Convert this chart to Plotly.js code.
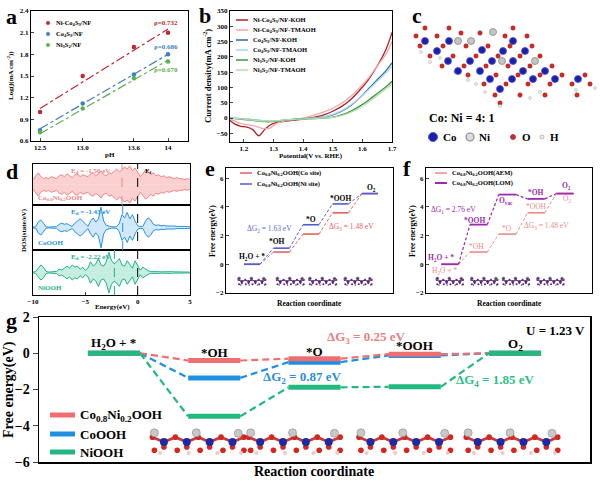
<!DOCTYPE html>
<html>
<head>
<meta charset="utf-8">
<script src="https://cdn.plot.ly/plotly-3.0.1.min.js"></script>
<style>
  html, body { margin: 0; padding: 0; background: #fff; }
  #chart { width: 600px; height: 481px; }
</style>
</head>
<body>
<div id="chart"></div>
<script>
// ---- a: current vs pH ----
const phValues = [12.5, 13.0, 13.6, 14];
const phLabels = ['12.5', '13.0', '13.6', '14'];
const logjNiCo = [1.0, 1.5, 1.9, 2.1];
const logjCo = [0.75, 1.12, 1.52, 1.80];
const logjNi = [0.72, 1.05, 1.47, 1.70];
const fitEnds = [12.5, 14];
const fitNiCo = [1.05, 2.15];
const fitCo = [0.77, 1.80];
const fitNi = [0.70, 1.72];

// ---- b: LSV curves ----
const potential = [1.15, 1.17, 1.19, 1.21, 1.23, 1.25, 1.27, 1.29, 1.31, 1.33, 1.35, 1.38,
  1.41, 1.44, 1.47, 1.50, 1.53, 1.56, 1.59, 1.62, 1.65, 1.68, 1.70];
const jNiCoKOH = [-5, -20, -27, -30, -38, -58, -38, -22, -15, -12, -9, -6, -2, 3, 10, 22, 38, 60, 90, 125, 170, 225, 280];
const jNiCoTMA = [-3, -10, -18, -22, -25, -30, -35, -32, -18, -12, -8, -4, 2, 10, 20, 32, 48, 70, 98, 130, 170, 210, 250];
const jCoKOH = [0, -1, -2, -4, -6, -8, -10, -11, -10, -8, -6, -4, -2, 0, 3, 10, 22, 40, 65, 95, 125, 155, 180];
const jCoTMA = [0, -1, -2, -3, -5, -7, -9, -10, -10, -8, -6, -4, -2, 0, 4, 12, 24, 42, 65, 92, 120, 148, 168];
const jNiKOH = [0, -2, -4, -6, -8, -10, -12, -12, -10, -8, -6, -4, -3, -2, 0, 3, 10, 22, 38, 58, 80, 102, 120];
const jNiTMA = [0, -1, -3, -5, -7, -9, -10, -10, -9, -7, -5, -4, -3, -2, 0, 2, 8, 18, 33, 52, 74, 95, 112];

// ---- c: slab model (positions in figure pixels) ----
const coX = [425, 449, 513, 437, 482, 503, 525, 448, 470, 492, 513, 458, 480, 523, 545, 490, 512, 533, 555, 578, 500];
const coY = [41, 41, 41, 51, 50, 51, 51, 61, 61, 61, 61, 71, 71, 71, 71, 79, 79, 79, 79, 79, 89];
const niX = [458, 471, 493, 502, 535];
const niY = [41, 41, 32, 61, 61];
const oX = [416, 437, 461, 480, 505, 527, 420, 443, 466, 488, 510, 532, 430, 453, 476, 498, 520, 540,
  442, 464, 486, 508, 530, 552, 468, 496, 518, 540, 562, 585, 484, 506, 528, 550, 572, 590, 495, 520, 545, 577, 425, 449, 513, 500];
const oY = [36, 36, 33, 33, 36, 36, 46, 46, 46, 46, 46, 46, 56, 56, 56, 56, 56, 56,
  66, 66, 66, 66, 66, 66, 75, 75, 75, 75, 75, 75, 84, 84, 84, 84, 84, 84, 95, 95, 95, 95, 28, 28, 28, 103];
const hX = [421, 440, 455, 468, 485, 500, 530, 576, 595, 540, 430, 476];
const hY = [52, 58, 72, 80, 92, 106, 98, 90, 88, 92, 62, 84];

// ---- d: DOS ----
const energy = [-10, -9.75, -9.5, -9.25, -9, -8.75, -8.5, -8.25, -8, -7.75, -7.5, -7.25, -7, -6.75, -6.5, -6.25,
  -6, -5.75, -5.5, -5.25, -5, -4.75, -4.5, -4.25, -4, -3.75, -3.5, -3.25, -3, -2.75, -2.5, -2.25,
  -2, -1.75, -1.5, -1.25, -1, -0.75, -0.5, -0.25, 0, 0.25, 0.5, 0.75, 1, 1.25, 1.5, 1.75,
  2, 2.25, 2.5, 2.75, 3, 3.25, 3.5, 3.75, 4, 4.25, 4.5, 4.75, 5];
const dosCoNi = [0.25, 0.45, 0.6, 0.4, 0.3, 0.35, 0.3, 0.4, 0.35, 0.3,
  0.45, 0.5, 0.4, 0.55, 0.45, 0.35, 0.5, 0.55, 0.4, 0.5,
  0.45, 0.4, 0.55, 0.6, 0.45, 0.55, 0.7, 0.5, 0.45, 0.6,
  0.55, 0.7, 0.8, 0.65, 0.75, 0.9, 0.8, 0.95, 0.7, 0.85,
  0.6, 0.4, 0.55, 0.75, 0.65, 0.5, 0.6, 0.45, 0.5, 0.4,
  0.45, 0.35, 0.4, 0.35, 0.3, 0.35, 0.3, 0.3, 0.25, 0.3, 0.25];
const dosCo = [0.02, 0.03, 0.25, 0.35, 0.2, 0.03, 0.02, 0.02, 0.02, 0.04,
  0.15, 0.2, 0.15, 0.18, 0.1, 0.05, 0.2, 0.3, 0.4, 0.3,
  0.15, 0.05, 0.3, 0.45, 0.25, 0.4, 0.95, 0.3, 0.1, 0.05,
  0.03, 0.03, 0.04, 0.2, 0.6, 0.45, 0.7, 0.4, 0.6, 0.3,
  0.08, 0.04, 0.05, 0.3, 0.45, 0.35, 0.15, 0.1, 0.12, 0.08,
  0.1, 0.07, 0.08, 0.06, 0.07, 0.05, 0.06, 0.05, 0.05, 0.04, 0.04];
const dosNi = [0.02, 0.04, 0.2, 0.35, 0.25, 0.05, 0.02, 0.02, 0.03, 0.05,
  0.15, 0.12, 0.2, 0.3, 0.2, 0.35, 0.25, 0.3, 0.15, 0.25,
  0.1, 0.2, 0.5, 0.3, 0.4, 0.65, 0.35, 0.3, 0.5, 0.95,
  0.55, 0.4, 0.5, 0.65, 0.35, 0.3, 0.55, 0.35, 0.2, 0.55,
  0.3, 0.1, 0.25, 0.15, 0.08, 0.04, 0.05, 0.03, 0.04, 0.03,
  0.04, 0.03, 0.03, 0.04, 0.03, 0.03, 0.03, 0.02, 0.03, 0.02, 0.02];
const dBandCentres = [-1.50, -1.43, -2.22];

// ---- e, f, g: free energy steps ----
const eCoSite = [0, 0.85, 2.10, 3.58, 4.92];
const eNiSite = [0, 1.12, 2.75, 4.20, 4.92];
const fAEM = [0, 0.85, 2.10, 3.58, 4.92];
const fLOM = [0, 2.76, 4.85, 4.55, 4.92];
const gCoNi = [0, -0.40, -0.30, -0.05, 0];
const gCoOOH = [0, -1.36, -0.49, -0.12, 0];
const gNiOOH = [0, -3.48, -1.88, -1.85, 0];

// slab sketch under the energy levels (one unit cell, reused)
const slabCoX = [-0.36, -0.12, 0.12, 0.36];
const slabCoY = [0, 0, 0, 0];
const slabNiX = [-0.46, -0.02, 0.42];
const slabNiY = [0.85, 0.85, 0.8];
const slabOX = [-0.48, -0.24, 0, 0.24, 0.48, -0.36, -0.12, 0.12, 0.36, -0.46, -0.22, 0.02, 0.26, 0.48];
const slabOY = [0.45, 0.45, 0.45, 0.45, 0.45, -0.45, -0.45, -0.45, -0.45, -0.75, -0.75, -0.75, -0.75, -0.75];
const slabHX = [-0.4, -0.1, 0.2, 0.45];
const slabHY = [-1, -1, -1, -1];
const slabBondX = [-0.48, -0.36, -0.24, -0.12, 0, 0.12, 0.24, 0.36, 0.48];
const slabBondY = [0.45, 0, 0.45, 0, 0.45, 0, 0.45, 0, 0.45];
const eSlabCentres = [0.0, 1.3, 2.4, 3.6];
const fSlabCentres = [0.0, 1.2, 2.3, 3.5];
const gSlabCentres = [0.84, 1.8, 2.9, 3.97];

const FONT = 'Liberation Serif';
const px = v => v / 600;
const py = v => 1 - v / 481;
const f = (size, color, weight) => ({ family: FONT, size: size, color: color || '#000', weight: weight || 'bold' });

const traces = [];
const shapes = [];
const annotations = [];

function note(text, x, y, size, color, opts) {
  annotations.push(Object.assign({ text: text, x: x, y: y, xref: 'paper', yref: 'paper',
    showarrow: false, font: f(size, color), xanchor: 'center', yanchor: 'middle' }, opts || {}));
}
function axNote(text, xa, ya, x, y, size, color, weight, opts) {
  annotations.push(Object.assign({ text: text, x: x, y: y, xref: xa, yref: ya,
    showarrow: false, font: f(size, color, weight), xanchor: 'center', yanchor: 'middle' }, opts || {}));
}
function legLine(x0, x1, y, color, width, text, size, tcolor) {
  shapes.push({ type: 'line', xref: 'paper', yref: 'paper', x0: px(x0), x1: px(x1), y0: py(y), y1: py(y),
    line: { color: color, width: width } });
  note(text, px(x1 + 3), py(y), size, tcolor || '#000', { xanchor: 'left' });
}
function dot(cx, cy, r, fill, lineColor, lw) {
  shapes.push({ type: 'circle', xref: 'paper', yref: 'paper', x0: px(cx - r), x1: px(cx + r),
    y0: py(cy + r), y1: py(cy - r), fillcolor: fill, line: { color: lineColor || fill, width: lw || 0.5 } });
}

// a
const aSeries = [
  [logjNiCo, fitNiCo, '#c0282d', 'ρ=0.732', 2.23, 'Ni-Co<sub>4</sub>S<sub>3</sub>/NF'],
  [logjCo, fitCo, '#3d7fc0', 'ρ=0.686', 1.90, 'Co<sub>4</sub>S<sub>3</sub>/NF'],
  [logjNi, fitNi, '#5fb04f', 'ρ=0.670', 1.58, 'Ni<sub>3</sub>S<sub>2</sub>/NF']
];
aSeries.forEach((s, k) => {
  traces.push({ x: fitEnds, y: s[1], mode: 'lines', line: { color: s[2], width: 1.2, dash: 'dashdot' }, xaxis: 'x', yaxis: 'y' });
  traces.push({ x: phValues, y: s[0], mode: 'markers', marker: { color: s[2], size: 4.5 }, xaxis: 'x', yaxis: 'y' });
  axNote(s[3], 'x', 'y', 13.98, s[4], 7, s[2]);
  dot(48, 23 + k * 11, 1.8, s[2]);
  note(s[5], px(54), py(23 + k * 11), 6.5, '#000', { xanchor: 'left' });
});

// b
const bSeries = [
  [jNiCoKOH, '#b01f2a', 'Ni-Co<sub>4</sub>S<sub>3</sub>/NF-KOH'],
  [jNiCoTMA, '#f4a7a7', 'Ni-Co<sub>4</sub>S<sub>3</sub>/NF-TMAOH'],
  [jCoKOH, '#2d6ba8', 'Co<sub>4</sub>S<sub>3</sub>/NF-KOH'],
  [jCoTMA, '#a9d3f0', 'Co<sub>4</sub>S<sub>3</sub>/NF-TMAOH'],
  [jNiKOH, '#3a963a', 'Ni<sub>3</sub>S<sub>2</sub>/NF-KOH'],
  [jNiTMA, '#b5ddb0', 'Ni<sub>3</sub>S<sub>2</sub>/NF-TMAOH']
];
bSeries.forEach((s, k) => {
  traces.push({ x: potential, y: s[0], mode: 'lines', line: { color: s[1], width: 1.3, shape: 'spline' }, xaxis: 'x2', yaxis: 'y2' });
  legLine(236, 248, 20 + k * 10, s[1], 1.5, s[2], 6.5);
});

// c
traces.push({ x: oX, y: oY, mode: 'markers', marker: { color: '#d42a22', size: 4.5, line: { color: '#8a1010', width: 0.4 } }, xaxis: 'x3', yaxis: 'y3' });
traces.push({ x: hX, y: hY, mode: 'markers', marker: { color: '#eeeeee', size: 3, line: { color: '#999', width: 0.4 } }, xaxis: 'x3', yaxis: 'y3' });
traces.push({ x: coX, y: coY, mode: 'markers', marker: { color: '#1d1fa8', size: 7, line: { color: '#4b55d8', width: 0.8 } }, xaxis: 'x3', yaxis: 'y3' });
traces.push({ x: niX, y: niY, mode: 'markers', marker: { color: '#c4c4c4', size: 7, line: { color: '#888', width: 0.8 } }, xaxis: 'x3', yaxis: 'y3' });
note('Co: Ni = 4: 1', px(427), py(118), 12, '#000', { xanchor: 'left' });
dot(433, 137, 4.5, '#1d1fa8', '#4b55d8', 1);
note('Co', px(441), py(137), 11, '#000', { xanchor: 'left' });
dot(470, 137, 4, '#dddddd', '#888', 1.2);
note('Ni', px(477), py(137), 11, '#000', { xanchor: 'left' });
dot(513, 137, 2.5, '#d42a22', '#8a1010', 0.6);
note('O', px(520), py(137), 11, '#000', { xanchor: 'left' });
dot(542, 137, 2, '#eeeeee', '#999', 0.6);
note('H', px(548), py(137), 11, '#000', { xanchor: 'left' });

// d
const dSeries = [
  [dosCoNi, '#ef8585', 'rgba(244,150,150,0.45)', 'x4', 'y4', 'Co<sub>0.8</sub>Ni<sub>0.2</sub>OOH', 'E<sub>d</sub> = -1.50 eV', 164, 205],
  [dosCo, '#2a90dc', 'rgba(120,190,240,0.35)', 'x5', 'y5', 'CoOOH', 'E<sub>d</sub> = -1.43 eV', 205, 250],
  [dosNi, '#22b386', 'rgba(90,205,165,0.35)', 'x6', 'y6', 'NiOOH', 'E<sub>d</sub> = -2.22 eV', 250, 295]
];
dSeries.forEach((s, k) => {
  traces.push({ x: energy, y: s[0], mode: 'lines', fill: 'tozeroy', fillcolor: s[2], line: { color: s[1], width: 1 }, xaxis: s[3], yaxis: s[4] });
  traces.push({ x: energy, y: s[0].map(v => -v), mode: 'lines', fill: 'tozeroy', fillcolor: s[2], line: { color: s[1], width: 1 }, xaxis: s[3], yaxis: s[4] });
  shapes.push({ type: 'line', xref: s[3], yref: 'paper', x0: dBandCentres[k], x1: dBandCentres[k], y0: py(s[8]), y1: py(s[7]),
    line: { color: s[1], width: 1, dash: 'dash' } });
  note(s[5], px(36), py(s[8] - 7), 7, s[1], { xanchor: 'left' });
  note(s[6], px(90), py(s[7] + 7), 7, s[1]);
});
shapes.push({ type: 'line', xref: 'x4', yref: 'paper', x0: 0, x1: 0, y0: py(295), y1: py(164), line: { color: '#000', width: 1, dash: 'dash' } });
note('E<sub>f</sub>', px(148), py(171), 7, '#000');

// slab sketches
function slab(centres, xa, ya, y0, sx, sy, size, mono) {
  centres.forEach(c => {
    const mx = arr => arr.map(v => c + v * sx);
    const my = arr => arr.map(v => y0 + v * sy);
    traces.push({ x: mx(slabBondX), y: my(slabBondY), mode: 'lines', line: { color: mono || '#c23a3a', width: size / 3 }, xaxis: xa, yaxis: ya });
    traces.push({ x: mx(slabOX), y: my(slabOY), mode: 'markers', marker: { color: mono || '#d6261e', size: size * 0.7 }, xaxis: xa, yaxis: ya });
    traces.push({ x: mx(slabHX), y: my(slabHY), mode: 'markers', marker: { color: mono || '#f2c8c8', size: size * 0.5 }, xaxis: xa, yaxis: ya });
    traces.push({ x: mx(slabNiX), y: my(slabNiY), mode: 'markers', marker: { color: mono || '#c8c8c8', size: size, line: { color: '#888', width: 0.6 } }, xaxis: xa, yaxis: ya });
    traces.push({ x: mx(slabCoX), y: my(slabCoY), mode: 'markers', marker: { color: mono || '#1c2aa8', size: size }, xaxis: xa, yaxis: ya });
  });
}
slab(eSlabCentres, 'x7', 'y7', -1.2, 0.95, 0.25, 3, '#5a2a7a');
slab(fSlabCentres, 'x8', 'y8', -1.2, 0.95, 0.25, 3, '#5a2a7a');
slab(gSlabCentres, 'x9', 'y9', -4.9, 0.95, 0.6, 8);

// e, f, g levels
function levels(vals, half, color, width, dashWidth, dash, xa, ya) {
  const lx = [], ly = [], cx = [], cy = [];
  vals.forEach((v, i) => {
    lx.push(i - half, i + half, null); ly.push(v, v, null);
    if (i < vals.length - 1) { cx.push(i + half, i + 1 - half, null); cy.push(v, vals[i + 1], null); }
  });
  traces.push({ x: cx, y: cy, mode: 'lines', line: { color: color, width: dashWidth, dash: dash }, xaxis: xa, yaxis: ya });
  traces.push({ x: lx, y: ly, mode: 'lines', line: { color: color, width: width }, xaxis: xa, yaxis: ya });
}
levels(eCoSite, 0.27, '#e2605e', 1.6, 1, '3px,2px', 'x7', 'y7');
levels(eNiSite, 0.27, '#4d5fd6', 1.6, 1, '3px,2px', 'x7', 'y7');
levels(fAEM, 0.3, '#f08a86', 1.6, 1, '3px,2px', 'x8', 'y8');
levels(fLOM, 0.3, '#9a2aae', 1.8, 1.2, '3px,2px', 'x8', 'y8');
levels(gCoOOH, 0.26, '#1e8fe2', 5, 2.2, '7px,4px', 'x9', 'y9');
levels(gCoNi, 0.26, '#ef6e70', 5, 2.2, '7px,4px', 'x9', 'y9');
levels(gNiOOH, 0.26, '#22b981', 5, 2.2, '7px,4px', 'x9', 'y9');

// e labels
axNote('H<sub>2</sub>O + *', 'x7', 'y7', 0, 0.5, 7.5);
axNote('*OH', 'x7', 'y7', 0.85, 1.6, 7.5);
axNote('*O', 'x7', 'y7', 2, 3.1, 7.5);
axNote('*OOH', 'x7', 'y7', 3, 4.6, 7.5);
axNote('O<sub>2</sub>', 'x7', 'y7', 4.05, 5.3, 7.5);
axNote('ΔG<sub>2</sub> = 1.63 eV', 'x7', 'y7', 0.58, 2.44, 7.5, '#5a6ad8', 'normal');
axNote('ΔG<sub>3</sub> = 1.48 eV', 'x7', 'y7', 3.36, 2.58, 7.5, '#e2605e', 'normal');
legLine(240, 252, 173, '#e2605e', 1.5, 'Co<sub>0.8</sub>Ni<sub>0.2</sub>OOH(Co site)', 6.5);
legLine(240, 252, 184, '#4d5fd6', 1.5, 'Co<sub>0.8</sub>Ni<sub>0.2</sub>OOH(Ni site)', 6.5);

// f labels
axNote('H<sub>2</sub>O + *', 'x8', 'y8', -0.3, 0.42, 7.5, '#9a2aae');
axNote('H<sub>2</sub>O + *', 'x8', 'y8', -0.17, -0.49, 7.5, '#f08a86', 'normal');
axNote('ΔG<sub>1</sub> = 2.76 eV', 'x8', 'y8', 0.12, 3.75, 7.5, '#9a2aae', 'normal');
axNote('*OOH', 'x8', 'y8', 0.85, 3.05, 7.5, '#9a2aae');
axNote('*OH', 'x8', 'y8', 0.93, 1.25, 7.5, '#f08a86', 'normal');
axNote('O<sub>vac</sub>', 'x8', 'y8', 1.95, 4.4, 7.5, '#9a2aae');
axNote('*O', 'x8', 'y8', 2, 2.5, 7.5, '#f08a86', 'normal');
axNote('*OH', 'x8', 'y8', 3, 5.0, 7.5, '#9a2aae');
axNote('*OOH', 'x8', 'y8', 3, 4.05, 7.5, '#f08a86', 'normal');
axNote('ΔG<sub>3</sub> = 1.48 eV', 'x8', 'y8', 3.35, 2.65, 7.5, '#f08a86', 'normal');
axNote('O<sub>2</sub>', 'x8', 'y8', 4.07, 5.45, 7.5, '#9a2aae');
axNote('O<sub>2</sub>', 'x8', 'y8', 4.07, 4.55, 7.5, '#f08a86', 'normal');
legLine(435, 447, 173, '#f08a86', 1.5, 'Co<sub>0.8</sub>Ni<sub>0.2</sub>OOH(AEM)', 6.5);
legLine(435, 447, 183, '#9a2aae', 2, 'Co<sub>0.8</sub>Ni<sub>0.2</sub>OOH(LOM)', 6.5);

// g labels
axNote('H<sub>2</sub>O + *', 'x9', 'y9', 0, 0.55, 13);
axNote('*OH', 'x9', 'y9', 1, 0.05, 13);
axNote('*O', 'x9', 'y9', 2, 0.1, 13);
axNote('*OOH', 'x9', 'y9', 3, 0.44, 13);
axNote('O<sub>2</sub>', 'x9', 'y9', 4, 0.5, 13);
axNote('ΔG<sub>3</sub> = 0.25 eV', 'x9', 'y9', 2.51, 0.88, 13, '#ea8080');
axNote('ΔG<sub>2</sub> = 0.87 eV', 'x9', 'y9', 1.88, -1.33, 13, '#2a8ee0');
axNote('ΔG<sub>4</sub> = 1.85 eV', 'x9', 'y9', 3.8, -1.49, 13, '#2bbf8a');
axNote('U = 1.23 V', 'x9', 'y9', 4.4, 1.27, 13);
legLine(50, 75, 415, '#ef6e70', 5, 'Co<sub>0.8</sub>Ni<sub>0.2</sub>OOH', 13);
legLine(50, 75, 434, '#1e8fe2', 5, 'CoOOH', 13);
legLine(50, 75, 452, '#22b981', 5, 'NiOOH', 13);

// panel letters
[['a', 4, 16], ['b', 197, 15], ['c', 410, 15], ['d', 4, 171], ['e', 203, 169], ['f', 401, 169], ['g', 4, 320]]
  .forEach(l => note(l[0], px(l[1]), py(l[2]), 22, '#000', { xanchor: 'left' }));

// axis titles drawn as notes to control placement
note('pH', px(110), py(155), 7);
note('Log(j(mA cm<sup>-2</sup>))', px(10), py(76), 7, '#000', { textangle: -90 });
note('Potential(V vs. RHE)', px(311), py(156), 7);
note('Current density(mA cm<sup>-2</sup>)', px(207), py(76), 8.5, '#000', { textangle: -90 });
note('Energy(eV)', px(112), py(307), 7);
note('DOS(state/eV)', px(24), py(230), 7, '#000', { textangle: -90 });
note('Reaction coordinate', px(309), py(303), 7.5);
note('Free energy(eV)', px(212), py(231), 7.5, '#000', { textangle: -90 });
note('Reaction coordinate', px(509), py(303), 7.5);
note('Free energy(eV)', px(412), py(231), 7.5, '#000', { textangle: -90 });
note('Reaction coordinate', px(314), py(471), 14);
note('Free energy(eV)', px(9), py(390), 14, '#000', { textangle: -90 });

function box(extra) {
  return Object.assign({ showline: true, mirror: true, linecolor: '#000', linewidth: 1, showgrid: false,
    zeroline: false, ticks: 'inside', ticklen: 3, tickwidth: 1, tickfont: f(7) }, extra);
}
const hidden = { visible: false };

const layout = {
  width: 600, height: 481,
  margin: { l: 0, r: 0, t: 0, b: 0 },
  paper_bgcolor: '#fff', plot_bgcolor: 'rgba(0,0,0,0)',
  showlegend: false,
  font: f(7),
  xaxis: box({ domain: [px(31), px(188)], range: [12.394, 14.234], tickvals: phValues, ticktext: phLabels, anchor: 'y' }),
  yaxis: box({ domain: [py(141), py(11)], range: [0.6, 2.4], dtick: 0.3, tickformat: '.1f', anchor: 'x' }),
  xaxis2: box({ domain: [px(230), px(392)], range: [1.153, 1.7], dtick: 0.1, tickformat: '.1f', anchor: 'y2' }),
  yaxis2: box({ domain: [py(142), py(11)], range: [-78.5, 350], dtick: 50, anchor: 'x2' }),
  xaxis3: Object.assign({ domain: [px(405), px(600)], range: [405, 600], anchor: 'y3' }, hidden),
  yaxis3: Object.assign({ domain: [py(150), py(15)], range: [150, 15], anchor: 'x3' }, hidden),
  xaxis4: box({ domain: [px(33), px(190)], range: [-10, 5], showticklabels: false, ticks: '', anchor: 'y4' }),
  yaxis4: box({ domain: [py(205), py(164)], range: [-1.05, 1.05], showticklabels: false, ticks: '', anchor: 'x4' }),
  xaxis5: box({ domain: [px(33), px(190)], range: [-10, 5], showticklabels: false, ticks: '', anchor: 'y5' }),
  yaxis5: box({ domain: [py(250), py(205)], range: [-1.05, 1.05], showticklabels: false, ticks: '', anchor: 'x5' }),
  xaxis6: box({ domain: [px(33), px(190)], range: [-10, 5], dtick: 5, anchor: 'y6' }),
  yaxis6: box({ domain: [py(295), py(250)], range: [-1.05, 1.05], showticklabels: false, ticks: '', anchor: 'x6' }),
  xaxis7: box({ domain: [px(226), px(393)], range: [-0.88, 4.78], showticklabels: false, ticks: '', anchor: 'y7' }),
  yaxis7: box({ domain: [py(293), py(168)], range: [-2, 6.7], dtick: 2, anchor: 'x7' }),
  xaxis8: box({ domain: [px(426), px(592)], range: [-0.83, 4.94], showticklabels: false, ticks: '', anchor: 'y8' }),
  yaxis8: box({ domain: [py(293), py(168)], range: [-2, 6.7], dtick: 2, anchor: 'x8' }),
  xaxis9: box({ domain: [px(39), px(590)], range: [-0.748, 4.748], showticklabels: false, ticks: '', linewidth: 1.5, anchor: 'y9' }),
  yaxis9: box({ domain: [py(462), py(317)], range: [-6, 2], dtick: 2, linewidth: 1.5, ticks: 'outside', ticklen: 5, tickfont: f(14), anchor: 'x9' }),
  shapes: shapes,
  annotations: annotations
};

traces.forEach(t => { t.hoverinfo = 'skip'; t.cliponaxis = true; });
Plotly.newPlot('chart', traces, layout, { displayModeBar: false, staticPlot: true });
</script>
</body>
</html>
